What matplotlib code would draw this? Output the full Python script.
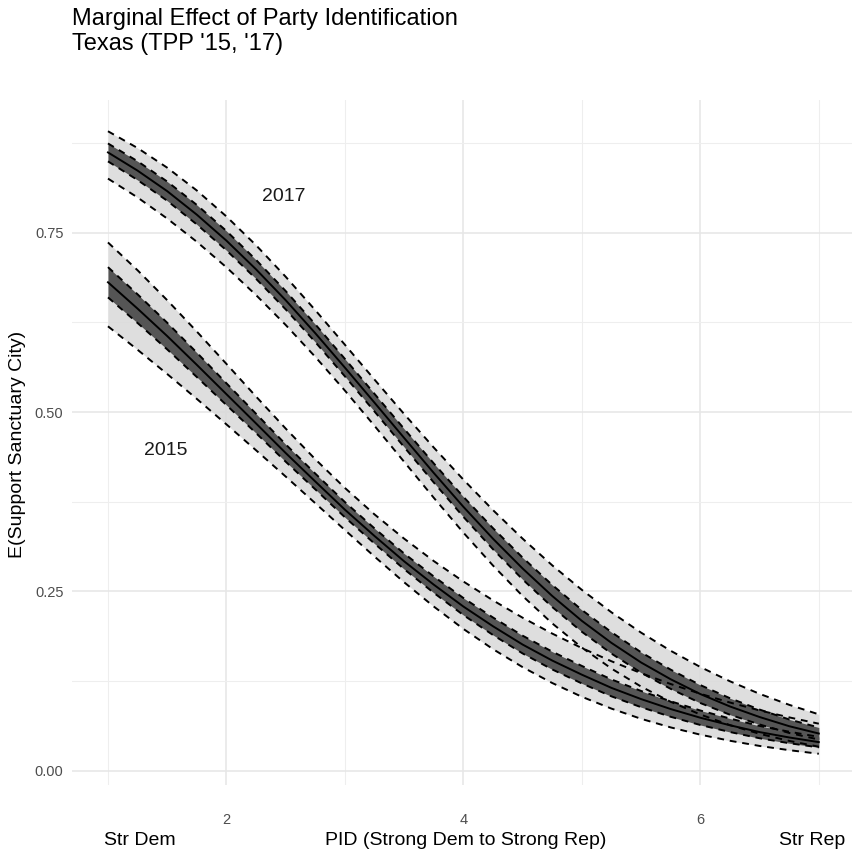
import numpy as np
from matplotlib import pyplot as plt
from matplotlib.ticker import MultipleLocator

plt.rcParams['font.family'] = ['Liberation Sans', 'DejaVu Sans']

# party id scale (1 = strong dem, 7 = strong rep)
pid = [1.0, 1.25, 1.5, 1.75, 2.0, 2.25, 2.5, 2.75, 3.0, 3.25, 3.5, 3.75, 4.0,
       4.25, 4.5, 4.75, 5.0, 5.25, 5.5, 5.75, 6.0, 6.25, 6.5, 6.75, 7.0]

# 2017 predicted probabilities + intervals
fit_17 = [0.862, 0.8366, 0.808, 0.7752, 0.739, 0.6990, 0.656, 0.6100, 0.562, 0.5131, 0.464, 0.4152, 0.368,
          0.3235, 0.282, 0.2437, 0.209, 0.1783, 0.151, 0.1276, 0.107, 0.0897, 0.075, 0.0622, 0.052]
outer_lo_17 = [0.8255, 0.7992, 0.7698, 0.7374, 0.7018, 0.6631, 0.6215, 0.5770, 0.5300, 0.4808, 0.4307, 0.3806, 0.3320,
               0.2861, 0.2437, 0.2055, 0.1718, 0.1425, 0.1174, 0.0962, 0.0785, 0.0637, 0.0516, 0.0417, 0.0336]
outer_hi_17 = [0.8915, 0.8681, 0.8407, 0.8089, 0.7727, 0.7326, 0.6887, 0.6421, 0.5939, 0.5453, 0.4973, 0.4506, 0.4059,
               0.3634, 0.3236, 0.2864, 0.2522, 0.2209, 0.1926, 0.1673, 0.1447, 0.1248, 0.1073, 0.0920, 0.0787]
inner_hw_17 = [0.0125, 0.0131, 0.0134, 0.0136, 0.0135, 0.0132, 0.0128, 0.0124, 0.0122, 0.0123, 0.0127, 0.0133, 0.0140,
               0.0147, 0.0152, 0.0154, 0.0152, 0.0149, 0.0142, 0.0134, 0.0125, 0.0115, 0.0104, 0.0094, 0.0084]

# 2015 predicted probabilities + intervals
fit_15 = [0.681, 0.6442, 0.606, 0.5659, 0.525, 0.4842, 0.443, 0.4033, 0.364, 0.3273, 0.292, 0.2595, 0.229,
          0.2015, 0.176, 0.1537, 0.134, 0.1156, 0.100, 0.0861, 0.074, 0.0635, 0.054, 0.0465, 0.040]
outer_lo_15 = [0.6196, 0.5869, 0.5531, 0.5184, 0.4829, 0.4468, 0.4102, 0.3730, 0.3356, 0.2986, 0.2628, 0.2290, 0.1978,
               0.1696, 0.1445, 0.1224, 0.1032, 0.0867, 0.0725, 0.0605, 0.0504, 0.0419, 0.0347, 0.0288, 0.0238]
outer_hi_15 = [0.7365, 0.6977, 0.6560, 0.6123, 0.5672, 0.5217, 0.4771, 0.4343, 0.3943, 0.3574, 0.3236, 0.2924, 0.2639,
               0.2376, 0.2134, 0.1913, 0.1711, 0.1527, 0.1361, 0.1210, 0.1074, 0.0952, 0.0842, 0.0745, 0.0657]
inner_hw_15 = [0.0211, 0.0200, 0.0186, 0.0170, 0.0152, 0.0135, 0.0121, 0.0110, 0.0106, 0.0106, 0.0109, 0.0114, 0.0119,
               0.0122, 0.0124, 0.0124, 0.0122, 0.0118, 0.0113, 0.0108, 0.0101, 0.0094, 0.0086, 0.0080, 0.0073]

year_labels = ['2017', '2015']
label_pos = [(2.48, 0.80), (1.49, 0.447)]

y_ticks = [0, 0.25, 0.5, 0.75]
y_ticklabels = ['0.00', '0.25', '0.50', '0.75']
x_ticks = [2, 4, 6]

title_lines = ["Marginal Effect of Party Identification", "Texas (TPP '15, '17)"]

fig = plt.figure(figsize=(8.52, 8.55), dpi=100)
ax = fig.add_axes([0.085, 0.082, 0.915, 0.801])


def draw_band(x, fit, lo, hi, hw):
    x = np.array(x)
    fit = np.array(fit)
    hw = np.array(hw)
    # outer interval (light) and inner interval (dark)
    ax.fill_between(x, lo, hi, color='#d9d9d9', alpha=0.85, lw=0, zorder=2)
    ax.fill_between(x, fit - hw, fit + hw, color='#555555', lw=0, zorder=3)
    for edge in [lo, hi, fit - hw, fit + hw]:
        ax.plot(x, edge, color='black', lw=1.4, ls=(0, (3.5, 3)), zorder=4)
    ax.plot(x, fit, color='black', lw=1.4, zorder=5)


draw_band(pid, fit_15, outer_lo_15, outer_hi_15, inner_hw_15)
draw_band(pid, fit_17, outer_lo_17, outer_hi_17, inner_hw_17)

for lab, (lx, ly) in zip(year_labels, label_pos):
    ax.text(lx, ly, lab, fontsize=14, color='#1a1a1a', ha='center', va='center', zorder=6)

ax.set_xlim(0.7, 7.28)
ax.set_ylim(-0.0196, 0.935)

ax.xaxis.set_minor_locator(MultipleLocator(2, offset=1))
ax.yaxis.set_minor_locator(MultipleLocator(0.25, offset=0.125))
ax.set_yticks(y_ticks)
ax.set_yticklabels(y_ticklabels)
ax.set_xticks(x_ticks)

ax.grid(which='major', color='#e6e6e6', lw=1.1, zorder=0)
ax.grid(which='minor', color='#eeeeee', lw=0.8, zorder=0)
ax.set_axisbelow(True)
for s in ax.spines.values():
    s.set_visible(False)
ax.tick_params(which='both', length=0, labelsize=10.5, labelcolor='#4d4d4d')
ax.tick_params(axis='x', pad=20)
ax.tick_params(axis='y', pad=6.5)

# axis titles placed by hand (ggplot-ish layout)
fig.text(18 / 852, 1 - 444 / 855, 'E(Support Sanctuary City)', fontsize=14, rotation=90,
         ha='center', va='center')
fig.text(466 / 852, 1 - 840 / 855, 'PID (Strong Dem to Strong Rep)', fontsize=14, ha='center', va='center')
fig.text(140 / 852, 1 - 840 / 855, 'Str Dem', fontsize=14, ha='center', va='center')
fig.text(812 / 852, 1 - 840 / 855, 'Str Rep', fontsize=14, ha='center', va='center')

# two line title
for i, line in enumerate(title_lines):
    fig.text(72 / 852, 1 - (25 + 25 * i) / 855, line, fontsize=17, ha='left', va='baseline')

plt.savefig('out.png', dpi=100)
